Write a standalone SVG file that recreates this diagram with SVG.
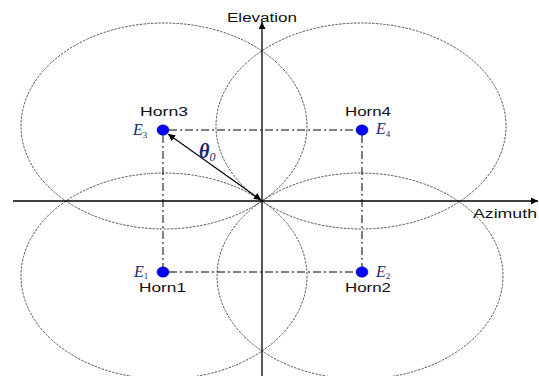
<svg xmlns="http://www.w3.org/2000/svg" width="539" height="376" viewBox="0 0 539 376">
<defs>
<style>
.beam{fill:none;stroke:#555;stroke-width:1;stroke-dasharray:2.5,1.2}
.axis{stroke:#000;stroke-width:1.3;fill:none}
.dd{stroke:#000;stroke-width:1;stroke-dasharray:8,3,2,3;fill:none}
.horn{fill:#0000ff;stroke:#00008b;stroke-width:0.5}
.lbl{font-family:"Liberation Sans",Arial,sans-serif;font-size:12px;fill:#111}
.e{font-family:"Liberation Serif","Times New Roman",serif;font-style:italic;font-size:16px;fill:#1a2370}
.sub{font-family:"Liberation Serif","Times New Roman",serif;font-style:normal;font-size:9px;fill:#1a2370}
</style>
<marker id="ah" viewBox="0 0 10 10" refX="10" refY="5" markerWidth="10" markerHeight="7" markerUnits="userSpaceOnUse" orient="auto">
<path d="M0,0 L10,5 L0,10 Z" fill="#000"/>
</marker>
<marker id="ahs" viewBox="0 0 10 10" refX="0" refY="5" markerWidth="10" markerHeight="7" markerUnits="userSpaceOnUse" orient="auto">
<path d="M10,0 L0,5 L10,10 Z" fill="#000"/>
</marker>
</defs>
<rect width="539" height="376" fill="#fff"/>
<g id="beams">
<ellipse class="beam" cx="164" cy="126" rx="143" ry="103"/>
<ellipse class="beam" cx="361" cy="126" rx="145" ry="103"/>
<ellipse class="beam" cx="164" cy="276" rx="143" ry="103"/>
<ellipse class="beam" cx="360" cy="276" rx="143" ry="103"/>
</g>
<g id="connectors">
<line class="axis" x1="13" y1="201" x2="538" y2="201" marker-end="url(#ah)"/>
<line class="axis" x1="262" y1="376" x2="262" y2="22" marker-end="url(#ah)"/>
<line class="dd" x1="169" y1="130" x2="356" y2="130"/>
<line class="dd" x1="169" y1="272" x2="356" y2="272"/>
<line class="dd" x1="163" y1="135" x2="163" y2="267"/>
<line class="dd" x1="362" y1="135" x2="362" y2="267"/>
<line x1="168" y1="134" x2="261" y2="200" stroke="#000" stroke-width="1.1" marker-start="url(#ahs)" marker-end="url(#ah)"/>
</g>
<g id="horn3">
<ellipse class="horn" cx="163" cy="130" rx="6" ry="5.2"/>
<text class="lbl" x="140" y="116" textLength="48" lengthAdjust="spacingAndGlyphs">Horn3</text>
<text class="e" x="133" y="135">E<tspan class="sub" dy="3">3</tspan></text>
</g>
<g id="horn4">
<ellipse class="horn" cx="362" cy="130" rx="6" ry="5.2"/>
<text class="lbl" x="345" y="116" textLength="46" lengthAdjust="spacingAndGlyphs">Horn4</text>
<text class="e" x="376" y="134">E<tspan class="sub" dy="3">4</tspan></text>
</g>
<g id="horn1">
<ellipse class="horn" cx="163" cy="272" rx="6" ry="5.2"/>
<text class="lbl" x="139" y="292" textLength="47" lengthAdjust="spacingAndGlyphs">Horn1</text>
<text class="e" x="134" y="277">E<tspan class="sub" dy="2">1</tspan></text>
</g>
<g id="horn2">
<ellipse class="horn" cx="362" cy="272" rx="6" ry="5.2"/>
<text class="lbl" x="345" y="292" textLength="46" lengthAdjust="spacingAndGlyphs">Horn2</text>
<text class="e" x="376" y="277">E<tspan class="sub" dy="2">2</tspan></text>
</g>
<g id="labels">
<text class="lbl" x="227" y="22" textLength="70" lengthAdjust="spacingAndGlyphs">Elevation</text>
<text class="lbl" x="473" y="218" textLength="64" lengthAdjust="spacingAndGlyphs">Azimuth</text>
<text x="199" y="158" font-family="Liberation Serif,'Times New Roman',serif" font-style="italic" font-weight="bold" font-size="20" fill="#1a2370">θ<tspan font-size="12" font-weight="normal" dy="3">0</tspan></text>
</g>
</svg>
